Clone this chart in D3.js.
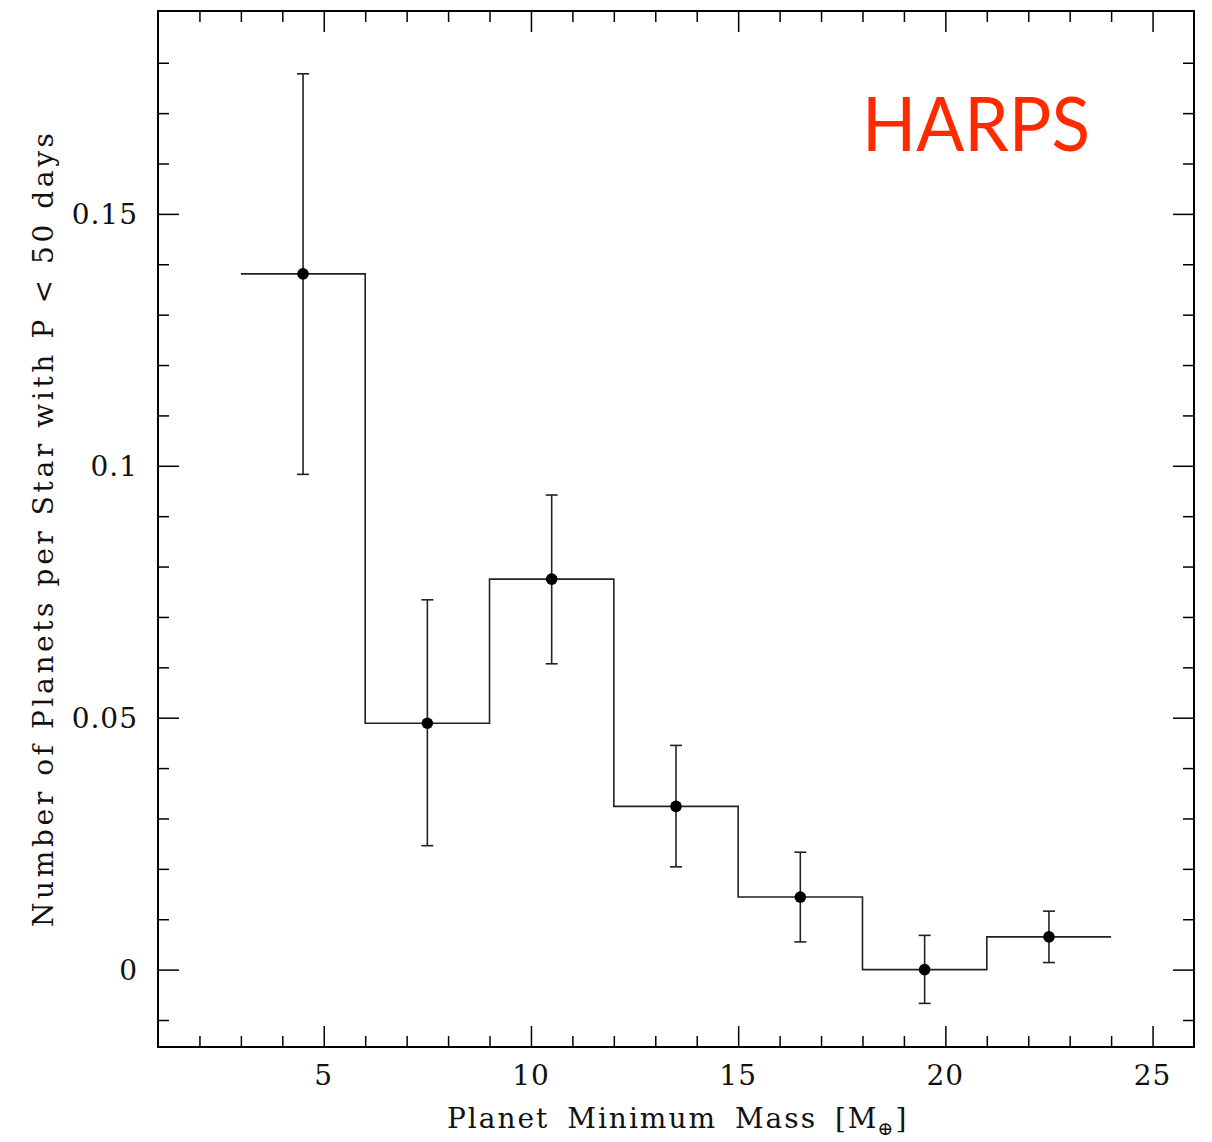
<!DOCTYPE html>
<html>
<head>
<meta charset="utf-8">
<script src="https://cdn.jsdelivr.net/npm/d3@7"></script>
<style>
  html, body { margin: 0; padding: 0; background: #fff; }
  svg { display: block; }
</style>
</head>
<body>
<svg id="chart" width="1212" height="1142"></svg>
<script>
// ---- data ----
const binEdges = [3, 6, 9, 12, 15, 18, 21, 24];
const binCenters = [4.5, 7.5, 10.5, 13.5, 16.5, 19.5, 22.5];
const rates = [0.1381, 0.0489, 0.0775, 0.0324, 0.0144, 0.0000, 0.0065];
const errHigh = [0.1778, 0.0734, 0.0942, 0.0445, 0.0233, 0.0068, 0.0116];
const errLow = [0.0983, 0.0246, 0.0607, 0.0204, 0.0055, -0.0067, 0.0014];
const xTickValues = [5, 10, 15, 20, 25];
const yTickValues = [0, 0.05, 0.1, 0.15];
const yTickLabels = ["0", "0.05", "0.1", "0.15"];
const xLabel = "Planet Minimum Mass [M";
const yLabel = "Number of Planets per Star with P < 50 days";
const title = "HARPS";

// ---- layout ----
const svg = d3.select("#chart");
const L = 158, R = 1194, T = 11, B = 1047;
const x = d3.scaleLinear().domain([1, 26]).range([L, R]);
const y = d3.scaleLinear().domain([-0.01536, 0.19027]).range([B, T]);
const serif = "'DejaVu Serif', serif";

const minorX = d3.range(2, 26, 1).filter(v => v % 5 !== 0);
const minorY = d3.range(-0.01, 0.19, 0.01).map(v => +v.toFixed(2)).filter(v => Math.round(v * 100) % 5 !== 0);

function tickAxis(axisFn, scale, vals, size) {
  return axisFn(scale).tickValues(vals).tickSize(size).tickFormat("");
}
const axes = svg.append("g").attr("class", "axes");
function styleAxis(g) {
  g.select(".domain").remove();
  g.selectAll(".tick line").attr("stroke", "#000").attr("stroke-width", 1.5);
}
// bottom
axes.append("g").attr("transform", `translate(0,${B})`).call(tickAxis(d3.axisTop, x, xTickValues, 21)).call(styleAxis);
axes.append("g").attr("transform", `translate(0,${B})`).call(tickAxis(d3.axisTop, x, minorX, 11)).call(styleAxis);
// top
axes.append("g").attr("transform", `translate(0,${T})`).call(tickAxis(d3.axisBottom, x, xTickValues, 21)).call(styleAxis);
axes.append("g").attr("transform", `translate(0,${T})`).call(tickAxis(d3.axisBottom, x, minorX, 11)).call(styleAxis);
// left
axes.append("g").attr("transform", `translate(${L},0)`).call(tickAxis(d3.axisRight, y, yTickValues, 21)).call(styleAxis);
axes.append("g").attr("transform", `translate(${L},0)`).call(tickAxis(d3.axisRight, y, minorY, 11)).call(styleAxis);
// right
axes.append("g").attr("transform", `translate(${R},0)`).call(tickAxis(d3.axisLeft, y, yTickValues, 21)).call(styleAxis);
axes.append("g").attr("transform", `translate(${R},0)`).call(tickAxis(d3.axisLeft, y, minorY, 11)).call(styleAxis);

// frame
svg.append("rect").attr("x", L).attr("y", T).attr("width", R - L).attr("height", B - T)
  .attr("fill", "none").attr("stroke", "#000").attr("stroke-width", 2);

// tick labels
svg.append("g").selectAll("text").data(xTickValues).join("text")
  .attr("x", d => x(d)).attr("y", 1085)
  .attr("text-anchor", "middle")
  .attr("font-family", serif).attr("font-size", 28).attr("letter-spacing", 1)
  .attr("fill", "#111")
  .text(d => d);
svg.append("g").selectAll("text").data(yTickValues).join("text")
  .attr("x", 138).attr("y", d => y(d) + 10)
  .attr("text-anchor", "end")
  .attr("font-family", serif).attr("font-size", 28).attr("letter-spacing", 1)
  .attr("fill", "#111")
  .text((d, i) => yTickLabels[i]);

// axis labels
const xl = svg.append("text")
  .attr("x", 447).attr("y", 1128)
  .attr("font-family", serif).attr("font-size", 28)
  .attr("letter-spacing", 2).attr("word-spacing", 7)
  .attr("fill", "#111");
xl.append("tspan").text(xLabel);
xl.append("tspan").attr("font-size", 19).attr("dy", 7).attr("dx", -1).text("\u2295");
xl.append("tspan").attr("dy", -7).text("]");

svg.append("text")
  .attr("transform", "translate(53,530) rotate(-90)")
  .attr("text-anchor", "middle")
  .attr("font-family", serif).attr("font-size", 28)
  .attr("textLength", 794).attr("lengthAdjust", "spacing")
  .attr("fill", "#111")
  .text(yLabel);

// step histogram
const stepData = binEdges.map((e, i) => ({ x: e, v: i < rates.length ? rates[i] : rates[rates.length - 1] }));
const step = d3.line().x(d => x(d.x)).y(d => y(d.v)).curve(d3.curveStepAfter);
svg.append("path").datum(stepData)
  .attr("d", step).attr("fill", "none").attr("stroke", "#222").attr("stroke-width", 1.6);

// error bars
const eb = svg.append("g").attr("stroke", "#222").attr("stroke-width", 1.6);
binCenters.forEach((c, i) => {
  eb.append("line").attr("x1", x(c)).attr("x2", x(c)).attr("y1", y(errLow[i])).attr("y2", y(errHigh[i]));
  eb.append("line").attr("x1", x(c) - 6).attr("x2", x(c) + 6).attr("y1", y(errLow[i])).attr("y2", y(errLow[i]));
  eb.append("line").attr("x1", x(c) - 6).attr("x2", x(c) + 6).attr("y1", y(errHigh[i])).attr("y2", y(errHigh[i]));
});

// points
svg.append("g").selectAll("circle").data(binCenters).join("circle")
  .attr("cx", d => x(d)).attr("cy", (d, i) => y(rates[i])).attr("r", 5.8)
  .attr("fill", "#000");

// title
svg.append("text")
  .attr("x", 862).attr("y", 151)
  .attr("font-family", "Lato, 'Open Sans', sans-serif").attr("font-size", 75)
  .attr("textLength", 228).attr("lengthAdjust", "spacingAndGlyphs")
  .attr("fill", "#FF2A00")
  .text(title);
</script>
</body>
</html>
